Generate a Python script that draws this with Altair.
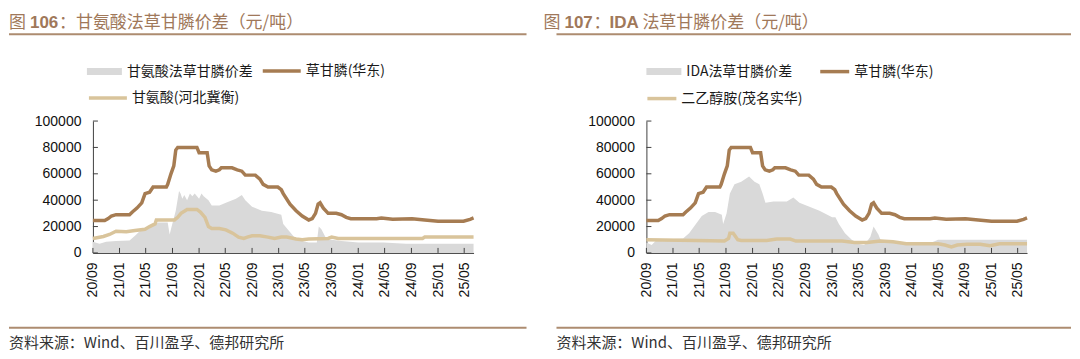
import altair as alt
import pandas as pd

# ---------------- data ----------------
GLY_NAME = "草甘膦(华东)"
glyphosate_dates = [
    "2020-09-01", "2020-10-25", "2020-11-10", "2020-11-25", "2020-12-16", "2021-02-16",
    "2021-03-01", "2021-03-22", "2021-04-13", "2021-04-28", "2021-05-19", "2021-06-04",
    "2021-08-04", "2021-08-10", "2021-08-25", "2021-09-07", "2021-09-16", "2021-09-25",
    "2021-12-22", "2022-01-01", "2022-02-07", "2022-02-16", "2022-02-28", "2022-03-19",
    "2022-04-04", "2022-04-13", "2022-06-01", "2022-06-25", "2022-07-16", "2022-08-01",
    "2022-09-16", "2022-10-07", "2022-10-22", "2022-11-13", "2022-12-28", "2023-01-13",
    "2023-01-22", "2023-02-22", "2023-03-22", "2023-04-19", "2023-05-19", "2023-06-04",
    "2023-06-19", "2023-07-01", "2023-07-10", "2023-07-25", "2023-08-16", "2023-09-22",
    "2023-10-16", "2023-11-07", "2023-11-28", "2024-03-25", "2024-04-16", "2024-06-07",
    "2024-09-04", "2024-11-01", "2025-01-01", "2025-04-28", "2025-05-28", "2025-06-13",
]
glyphosate_vals = [
    24500, 24500, 26000, 28000, 29000, 29000,
    31000, 34000, 38000, 45000, 46000, 50000,
    50000, 52000, 60000, 66000, 78000, 80000,
    80000, 76000, 76000, 66000, 63000, 62000,
    63000, 64500, 64500, 63000, 62000, 59000,
    59000, 56000, 52000, 50000, 50000, 48000,
    45000, 37000, 32000, 28000, 25000, 26000,
    30000, 37000, 38000, 34000, 30000, 30000,
    29000, 27000, 26000, 26000, 26500, 25500,
    26000, 25000, 24000, 24000, 25500, 26500,
]

GLYCINE_NAME = "甘氨酸(河北冀衡)"
glycine_dates = [
    "2020-09-01", "2020-10-19", "2020-11-16", "2020-12-16", "2021-02-01", "2021-03-13",
    "2021-04-28", "2021-05-19", "2021-06-13", "2021-06-19", "2021-09-10", "2021-09-25",
    "2021-10-10", "2021-11-07", "2021-12-22", "2022-01-07", "2022-01-28", "2022-02-13",
    "2022-02-28", "2022-04-04", "2022-05-04", "2022-06-04", "2022-07-01", "2022-07-25",
    "2022-08-10", "2022-09-01", "2022-10-07", "2022-11-13", "2022-12-13", "2023-01-13",
    "2023-02-07", "2023-03-22", "2023-04-19", "2023-05-19", "2023-08-16", "2023-09-01",
    "2023-10-01", "2024-01-01", "2024-10-22", "2024-11-01", "2025-06-13",
]
glycine_vals = [
    11000, 12500, 14000, 16500, 16000, 17000,
    18000, 20000, 22000, 25000, 25000, 27000,
    30000, 33000, 33000, 31000, 27000, 20000,
    18500, 18500, 17500, 15000, 12000, 11000,
    12000, 13000, 13000, 12000, 11000, 12000,
    12000, 10500, 10000, 10500, 11000, 12000,
    11000, 11000, 11000, 12000, 12000,
]

SPREAD_GLY_NAME = "甘氨酸法草甘膦价差"
spread_gly_dates = [
    "2020-09-01", "2020-10-01", "2020-11-01", "2020-12-16", "2021-02-16", "2021-03-13",
    "2021-04-13", "2021-05-13", "2021-06-28", "2021-08-10", "2021-08-19", "2021-08-28",
    "2021-09-16", "2021-10-01", "2021-10-08", "2021-10-16", "2021-10-25", "2021-11-07",
    "2021-11-20", "2021-12-01", "2021-12-12", "2022-01-01", "2022-01-12", "2022-01-22",
    "2022-02-13", "2022-02-28", "2022-04-04", "2022-05-04", "2022-06-19", "2022-07-16",
    "2022-08-01", "2022-09-01", "2022-10-16", "2022-11-28", "2023-01-13", "2023-01-22",
    "2023-02-16", "2023-03-13", "2023-04-19", "2023-05-19", "2023-06-25", "2023-07-04",
    "2023-07-16", "2023-08-10", "2023-09-01", "2023-10-16", "2024-01-01", "2024-04-25",
    "2024-08-07", "2024-11-01", "2025-06-13",
]
spread_gly_vals = [
    8500, 7000, 8500, 9000, 9500, 13000,
    18000, 20000, 23000, 23000, 14000, 20000,
    32000, 47000, 45000, 41000, 44000, 40000,
    45000, 43000, 45000, 41000, 45000, 43000,
    40000, 36000, 36000, 38000, 41000, 44000,
    40000, 35000, 32000, 31000, 29000, 22000,
    17000, 12000, 9000, 8000, 8000, 20000,
    18000, 10000, 10000, 9000, 8000, 8000,
    7000, 7000, 7000,
]

DEA_NAME = "二乙醇胺(茂名实华)"
dea_dates = [
    "2020-09-01", "2021-04-16", "2021-08-25", "2021-09-13", "2021-09-19", "2021-10-04",
    "2021-10-25", "2021-11-10", "2022-03-07", "2022-04-22", "2022-06-22", "2022-07-19",
    "2023-01-01", "2023-02-16", "2023-04-13", "2023-06-10", "2023-08-10", "2023-10-07",
    "2023-12-07", "2024-05-01", "2024-06-01", "2024-07-01", "2024-07-28", "2024-09-13",
    "2024-11-10", "2024-12-25", "2025-02-07", "2025-06-13",
]
dea_vals = [
    10000, 9500, 9000, 11000, 15000, 15000,
    10000, 9500, 9500, 10500, 10500, 9000,
    9000, 9000, 8000, 8000, 9000, 8500,
    7000, 7000, 6000, 4500, 6000, 6500,
    6500, 5500, 7000, 7000,
]

SPREAD_IDA_NAME = "IDA法草甘膦价差"
spread_ida_dates = [
    "2020-09-01", "2020-09-25", "2020-10-19", "2021-01-01", "2021-02-16", "2021-03-16",
    "2021-04-16", "2021-05-13", "2021-06-13", "2021-07-13", "2021-08-13", "2021-08-19",
    "2021-09-04", "2021-09-19", "2021-10-10", "2021-11-10", "2021-12-16", "2022-01-10",
    "2022-02-01", "2022-02-16", "2022-03-01", "2022-04-07", "2022-06-07", "2022-07-07",
    "2022-08-04", "2022-09-19", "2022-11-04", "2023-01-01", "2023-01-16", "2023-02-01",
    "2023-03-01", "2023-04-01", "2023-04-28", "2023-05-28", "2023-06-25", "2023-07-10",
    "2023-08-01", "2023-08-16", "2024-04-01", "2024-05-01", "2025-06-13",
]
spread_ida_vals = [
    8000, 6000, 10000, 10500, 11000, 15000,
    22000, 28000, 31000, 31000, 29000, 22000,
    30000, 45000, 52000, 54000, 58000, 54000,
    52000, 45000, 38000, 39000, 39000, 42000,
    38000, 35000, 32000, 27000, 27000, 22000,
    15000, 10000, 7000, 6000, 12000, 20000,
    14000, 8000, 8000, 10000, 10000,
]

x_tick_dates = [
    "2020-09-01", "2021-01-01", "2021-05-01", "2021-09-01", "2022-01-01",
    "2022-05-01", "2022-09-01", "2023-01-01", "2023-05-01", "2023-09-01",
    "2024-01-01", "2024-05-01", "2024-09-01", "2025-01-01", "2025-05-01",
]
y_tick_values = [0, 20000, 40000, 60000, 80000, 100000]
x_domain = ["2020-09-01", "2025-06-13"]

SOURCE = "资料来源：Wind、百川盈孚、德邦研究所"

# ---------------- styling ----------------
W, H = 381, 132
GRAY = "#D9D9D9"
BROWN = "#A67C52"
TAN = "#D9C49B"
TITLE_C = "#A0785A"
RULE_C = "#AD8C70"
AXIS_C = "#404040"
CJK = "Noto Sans CJK SC"
LATIN = "Liberation Sans"
TITLE_Y = -98
TITLE_SIZE = 17


def dt(s):
    y, m, d = (int(p) for p in s.split("-"))
    return alt.DateTime(year=y, month=m, date=d, utc=True)


x_enc = alt.X(
    "date:T",
    scale=alt.Scale(type="utc", domain=[dt(x_domain[0]), dt(x_domain[1])]),
    axis=alt.Axis(
        values=[dt(d) for d in x_tick_dates], format="%y/%m", labelAngle=270,
        labelAlign="right", labelBaseline="middle", labelPadding=9,
        labelFont=LATIN, labelFontSize=14, labelColor="#111111",
        ticks=False, grid=False, title=None, labelOverlap=False, labelFlush=False,
        domainColor=AXIS_C, domainWidth=1,
    ),
)
y_enc = alt.Y(
    "v:Q",
    scale=alt.Scale(domain=[0, 100000], nice=False),
    axis=alt.Axis(
        values=y_tick_values, format="d", ticks=False, grid=False, title=None,
        labelFont=LATIN, labelFontSize=14, labelColor="#111111", labelPadding=12,
        domainColor=AXIS_C, domainWidth=1,
    ),
)

DUMMY = alt.Data(values=[{"k": 1}])


def text_layer(txt, x, y, font, size, weight="normal", color=TITLE_C):
    return alt.Chart(DUMMY).mark_text(
        align="left", baseline="middle", font=font, fontSize=size,
        fontWeight=weight, color=color,
    ).encode(x=alt.value(x), y=alt.value(y), text=alt.value(txt))


def rule_layer(x1, x2, y):
    return alt.Chart(DUMMY).mark_rule(color=RULE_C, strokeWidth=2).encode(
        x=alt.value(x1), x2=alt.value(x2), y=alt.value(y)
    )


def panel(spread_name, s_dates, s_vals, raw_name, r_dates, r_vals,
          title_parts, leg, rule_x1, rule_x2, line_len):
    df_s = pd.DataFrame({"date": s_dates, "v": s_vals, "s": spread_name})
    df_g = pd.DataFrame({"date": glyphosate_dates, "v": glyphosate_vals, "s": GLY_NAME})
    df_r = pd.DataFrame({"date": r_dates, "v": r_vals, "s": raw_name})
    leg_common = dict(orient="none", title=None, labelFont=CJK, labelFontSize=14,
                      labelColor="#1a1a1a", padding=0)

    area = alt.Chart(df_s).mark_area(opacity=1).encode(
        x=x_enc, y=y_enc,
        fill=alt.Fill("s:N", scale=alt.Scale(domain=[spread_name], range=[GRAY]),
                      legend=alt.Legend(legendX=leg[0][0], legendY=leg[0][1],
                                        symbolType="M-1,-0.2H1V0.2H-1Z", symbolSize=1225,
                                        symbolStrokeWidth=0, symbolOpacity=1,
                                        labelOffset=5, **leg_common)),
    )
    gly = alt.Chart(df_g).mark_line(strokeWidth=3.5).encode(
        x=x_enc, y=y_enc,
        stroke=alt.Stroke("s:N", scale=alt.Scale(domain=[GLY_NAME], range=[BROWN]),
                          legend=alt.Legend(legendX=leg[1][0], legendY=leg[1][1],
                                            symbolType="stroke", symbolSize=line_len ** 2,
                                            symbolStrokeWidth=3.5, labelOffset=3,
                                            **leg_common)),
    )
    raw = alt.Chart(df_r).mark_line(strokeWidth=3.5).encode(
        x=x_enc, y=y_enc,
        stroke=alt.Stroke("s:N", scale=alt.Scale(domain=[raw_name], range=[TAN]),
                          legend=alt.Legend(legendX=leg[2][0], legendY=leg[2][1],
                                            symbolType="stroke", symbolSize=line_len ** 2,
                                            symbolStrokeWidth=3.5, labelOffset=3,
                                            **leg_common)),
    )
    yticks = alt.Chart(pd.DataFrame({"v": y_tick_values})).mark_rule(color=AXIS_C).encode(
        y=y_enc, x=alt.value(0), x2=alt.value(5)
    )
    xticks = alt.Chart(pd.DataFrame({"date": x_tick_dates})).mark_rule(color=AXIS_C).encode(
        x=x_enc, y=alt.value(H - 5), y2=alt.value(H)
    )
    decor = [text_layer(t, x, TITLE_Y, f, TITLE_SIZE, w) for (t, x, f, w) in title_parts]
    decor += [
        rule_layer(rule_x1, rule_x2, -87),
        rule_layer(rule_x1, rule_x2, 207),
        text_layer(SOURCE, rule_x1, 222, CJK, 15, color="#333333"),
    ]
    return alt.layer(area, gly, raw, yticks, xticks, *decor).resolve_scale(
        stroke="independent", fill="independent"
    ).properties(width=W, height=H)


left = panel(
    SPREAD_GLY_NAME, spread_gly_dates, spread_gly_vals,
    GLYCINE_NAME, glycine_dates, glycine_vals,
    [("图", -84, CJK, "normal"), ("106", -63, LATIN, "bold"),
     ("：甘氨酸法草甘膦价差（元/吨）", -34, CJK, "normal")],
    [(-6, -67), (168, -71), (-6, -44)], -84, 434, 38,
)
right = panel(
    SPREAD_IDA_NAME, spread_ida_dates, spread_ida_vals,
    DEA_NAME, dea_dates, dea_vals,
    [("图", -103, CJK, "normal"), ("107", -82, LATIN, "bold"),
     ("：", -53, CJK, "normal"), ("IDA", -37, LATIN, "bold"),
     ("法草甘膦价差（元/吨）", -4, CJK, "normal")],
    [(0, -67), (172, -66), (-1, -39)], -90, 425, 29,
)

chart = alt.hconcat(
    left, right, spacing=16,
    padding={"top": 6, "left": 0, "right": 0, "bottom": 0},
).resolve_scale(fill="independent", stroke="independent").configure_view(stroke=None)
chart.save("out.html", embed_options={"renderer": "svg", "actions": False})
